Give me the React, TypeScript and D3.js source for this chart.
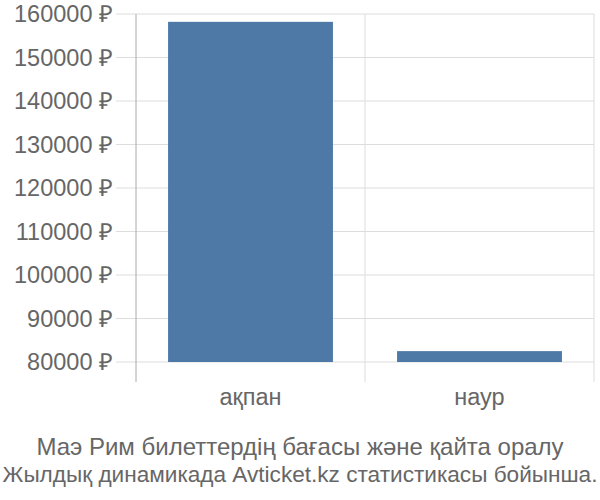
import { useEffect, useRef } from 'react';
import * as d3 from 'd3';

const categories = ['ақпан', 'наур'];
const prices = [158200, 82500];
const yTicks = [80000, 90000, 100000, 110000, 120000, 130000, 140000, 150000, 160000];
const titleLines = [
  'Маэ Рим билеттердің бағасы және қайта оралу',
  'Жылдық динамикада Avticket.kz статистикасы бойынша.',
];

const WIDTH = 600;
const HEIGHT = 500;
const PLOT = { left: 136, right: 594, top: 14, bottom: 362, axisBottom: 382 };
const FONT = '"Liberation Sans", Arial, sans-serif';
const BAR_COLOR = '#4e79a7';
const TEXT_COLOR = '#666';

export default function App() {
  const svgRef = useRef<SVGSVGElement>(null);

  useEffect(() => {
    if (!svgRef.current) return;
    const svg = d3.select(svgRef.current);
    svg.selectAll('*').remove();

    const x = d3.scaleBand<string>()
      .domain(categories)
      .range([PLOT.left, PLOT.right])
      .paddingInner(0.28)
      .paddingOuter(0.14);

    const y = d3.scaleLinear()
      .domain([80000, 160000])
      .range([PLOT.bottom, PLOT.top]);

    // horizontal grid
    svg.append('g')
      .selectAll('line')
      .data(yTicks)
      .enter()
      .append('line')
      .attr('x1', PLOT.left - 20)
      .attr('x2', PLOT.right)
      .attr('y1', (d) => y(d))
      .attr('y2', (d) => y(d))
      .attr('stroke', '#ddd')
      .attr('stroke-width', 1);

    // vertical grid at band edges
    const edges = categories.map((c) => (x(c) ?? 0) + x.bandwidth() + (x.step() - x.bandwidth()) / 2);
    svg.append('g')
      .selectAll('line')
      .data(edges)
      .enter()
      .append('line')
      .attr('x1', (d) => d)
      .attr('x2', (d) => d)
      .attr('y1', PLOT.top)
      .attr('y2', PLOT.axisBottom)
      .attr('stroke', '#ddd')
      .attr('stroke-width', 1);

    // bars
    svg.append('g')
      .selectAll('rect')
      .data(prices)
      .enter()
      .append('rect')
      .attr('x', (_, i) => x(categories[i]) ?? 0)
      .attr('y', (d) => y(d))
      .attr('width', x.bandwidth())
      .attr('height', (d) => y(80000) - y(d))
      .attr('fill', BAR_COLOR);

    // y axis line
    svg.append('line')
      .attr('x1', PLOT.left)
      .attr('x2', PLOT.left)
      .attr('y1', PLOT.top)
      .attr('y2', PLOT.axisBottom)
      .attr('stroke', '#aaa')
      .attr('stroke-width', 1);

    // y tick labels
    svg.append('g')
      .selectAll('text')
      .data(yTicks)
      .enter()
      .append('text')
      .attr('x', PLOT.left - 23)
      .attr('y', (d) => y(d))
      .attr('dy', '0.35em')
      .attr('text-anchor', 'end')
      .style('font-family', FONT)
      .style('font-size', '23.5px')
      .style('fill', TEXT_COLOR)
      .text((d) => `${d} ₽`);

    // category labels
    svg.append('g')
      .selectAll('text')
      .data(categories)
      .enter()
      .append('text')
      .attr('x', (d) => (x(d) ?? 0) + x.bandwidth() / 2)
      .attr('y', 405)
      .attr('text-anchor', 'middle')
      .style('font-family', FONT)
      .style('font-size', '23.5px')
      .style('fill', TEXT_COLOR)
      .text((d) => d);

    // title: the second line is a bit smaller so it fits the width
    svg.append('g')
      .selectAll('text')
      .data(titleLines)
      .enter()
      .append('text')
      .attr('x', WIDTH / 2)
      .attr('y', (_, i) => 455 + i * 27)
      .attr('text-anchor', 'middle')
      .style('font-family', FONT)
      .style('font-size', (_, i) => (i === 1 ? '22.6px' : '24px'))
      .style('fill', TEXT_COLOR)
      .text((d) => d);
  }, []);

  return (
    <svg
      ref={svgRef}
      width={WIDTH}
      height={HEIGHT}
      style={{ position: 'absolute', left: 0, top: 0, background: '#fff' }}
    />
  );
}
